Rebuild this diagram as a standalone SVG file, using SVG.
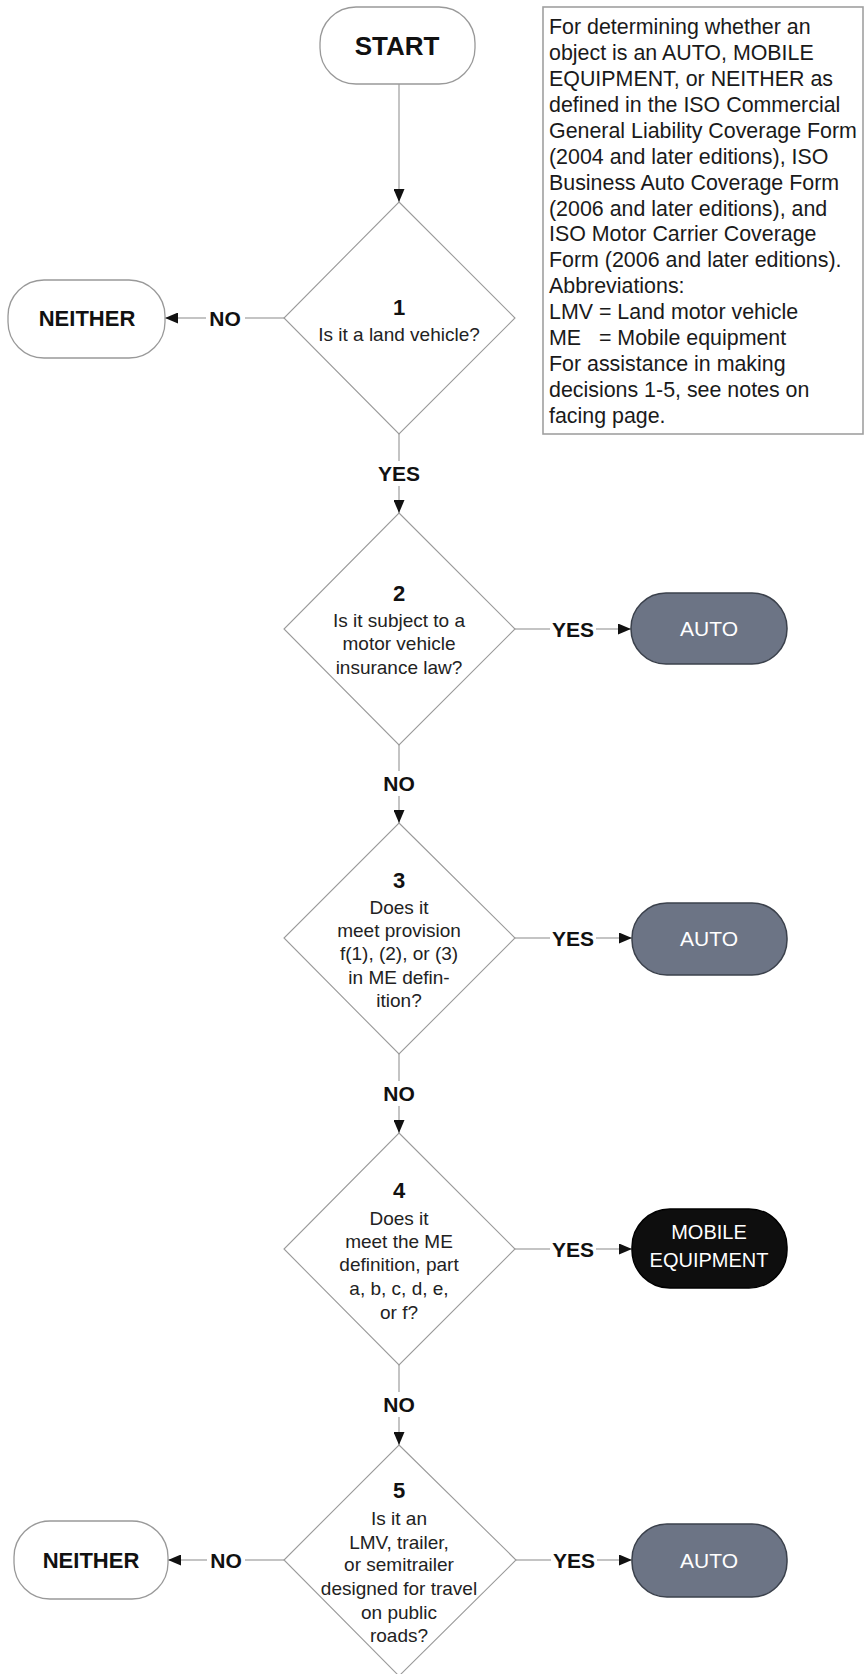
<svg xmlns="http://www.w3.org/2000/svg" width="864" height="1674" viewBox="0 0 864 1674">
<style>
  .term { fill: #ffffff; stroke: #999999; stroke-width: 1.3; }
  .auto { fill: #6c7485; stroke: #3b414c; stroke-width: 1.5; }
  .me { fill: #0e0e0e; stroke: #000000; stroke-width: 1.5; }
  .dia { fill: #ffffff; stroke: #9a9a9a; stroke-width: 1.1; }
  .note { fill: #ffffff; stroke: #a0a0a0; stroke-width: 1.6; }
  .conn { fill: none; stroke: #b0b0b0; stroke-width: 1.5; }
  .bold { font-family: "Liberation Sans", Arial, sans-serif; font-weight: bold; fill: #111111; text-anchor: middle; }
  .q { font-family: "Liberation Sans", Arial, sans-serif; font-size: 19px; fill: #222222; text-anchor: middle; }
  .wt { font-family: "Liberation Sans", Arial, sans-serif; fill: #ffffff; text-anchor: middle; }
  .nt { font-family: "Liberation Sans", Arial, sans-serif; font-size: 21.4px; fill: #1a1a1a; }
  .lbl { font-family: "Liberation Sans", Arial, sans-serif; font-weight: bold; font-size: 21px; fill: #111111; text-anchor: middle; }
</style>
<defs>
  <marker id="arr" markerUnits="userSpaceOnUse" markerWidth="14" markerHeight="11" refX="13" refY="5.5" orient="auto">
    <path d="M0,0 L13,5.5 L0,11 Z" fill="#111111"/>
  </marker>
</defs>

<g id="connectors">
  <line class="conn" x1="399" y1="84" x2="399" y2="202" marker-end="url(#arr)"/>
  <!-- 1 -> NEITHER -->
  <line class="conn" x1="284" y1="318" x2="245" y2="318"/>
  <line class="conn" x1="206" y1="318" x2="165" y2="318" marker-end="url(#arr)"/>
  <!-- 1 -> 2 -->
  <line class="conn" x1="399" y1="434" x2="399" y2="461"/>
  <line class="conn" x1="399" y1="486" x2="399" y2="513" marker-end="url(#arr)"/>
  <!-- 2 -> AUTO -->
  <line class="conn" x1="515" y1="629" x2="550" y2="629"/>
  <line class="conn" x1="596" y1="629" x2="631" y2="629" marker-end="url(#arr)"/>
  <!-- 2 -> 3 -->
  <line class="conn" x1="399" y1="745" x2="399" y2="771"/>
  <line class="conn" x1="399" y1="796" x2="399" y2="823" marker-end="url(#arr)"/>
  <!-- 3 -> AUTO -->
  <line class="conn" x1="515" y1="938" x2="550" y2="938"/>
  <line class="conn" x1="596" y1="938" x2="632" y2="938" marker-end="url(#arr)"/>
  <!-- 3 -> 4 -->
  <line class="conn" x1="399" y1="1054" x2="399" y2="1081"/>
  <line class="conn" x1="399" y1="1106" x2="399" y2="1133" marker-end="url(#arr)"/>
  <!-- 4 -> MOBILE EQUIPMENT -->
  <line class="conn" x1="515" y1="1249" x2="550" y2="1249"/>
  <line class="conn" x1="596" y1="1249" x2="632" y2="1249" marker-end="url(#arr)"/>
  <!-- 4 -> 5 -->
  <line class="conn" x1="399" y1="1365" x2="399" y2="1392"/>
  <line class="conn" x1="399" y1="1417" x2="399" y2="1445" marker-end="url(#arr)"/>
  <!-- 5 -> AUTO -->
  <line class="conn" x1="516" y1="1560" x2="551" y2="1560"/>
  <line class="conn" x1="597" y1="1560" x2="632" y2="1560" marker-end="url(#arr)"/>
  <!-- 5 -> NEITHER -->
  <line class="conn" x1="284" y1="1560" x2="245" y2="1560"/>
  <line class="conn" x1="207" y1="1560" x2="168" y2="1560" marker-end="url(#arr)"/>

  <text class="lbl" x="225" y="326">NO</text>
  <text class="lbl" x="399" y="481">YES</text>
  <text class="lbl" x="573" y="637">YES</text>
  <text class="lbl" x="399" y="791">NO</text>
  <text class="lbl" x="573" y="946">YES</text>
  <text class="lbl" x="399" y="1101">NO</text>
  <text class="lbl" x="573" y="1257">YES</text>
  <text class="lbl" x="399" y="1412">NO</text>
  <text class="lbl" x="574" y="1568">YES</text>
  <text class="lbl" x="226" y="1568">NO</text>
</g>

<g id="start">
  <rect class="term" x="320" y="7" width="155" height="77" rx="36"/>
  <text class="bold" x="397" y="55" font-size="26">START</text>
</g>

<g id="note">
  <rect class="note" x="543" y="7" width="320" height="427"/>
  <text class="nt" x="549" y="34">For determining whether an</text>
  <text class="nt" x="549" y="60">object is an AUTO, MOBILE</text>
  <text class="nt" x="549" y="86">EQUIPMENT, or NEITHER as</text>
  <text class="nt" x="549" y="112">defined in the ISO Commercial</text>
  <text class="nt" x="549" y="138">General Liability Coverage Form</text>
  <text class="nt" x="549" y="164">(2004 and later editions), ISO</text>
  <text class="nt" x="549" y="190">Business Auto Coverage Form</text>
  <text class="nt" x="549" y="216">(2006 and later editions), and</text>
  <text class="nt" x="549" y="241">ISO Motor Carrier Coverage</text>
  <text class="nt" x="549" y="267">Form (2006 and later editions).</text>
  <text class="nt" x="549" y="293">Abbreviations:</text>
  <text class="nt" x="549" y="319">LMV = Land motor vehicle</text>
  <text class="nt" x="549" y="345" xml:space="preserve">ME   = Mobile equipment</text>
  <text class="nt" x="549" y="371">For assistance in making</text>
  <text class="nt" x="549" y="397">decisions 1-5, see notes on</text>
  <text class="nt" x="549" y="423">facing page.</text>
</g>

<g id="d1">
  <polygon class="dia" points="399,202 515,318 399,434 284,318"/>
  <text class="bold" x="399" y="315" font-size="22">1</text>
  <text class="q" x="399" y="341">Is it a land vehicle?</text>
</g>

<g id="neither1">
  <rect class="term" x="8" y="280" width="157" height="78" rx="36"/>
  <text class="bold" x="87" y="326" font-size="22">NEITHER</text>
</g>

<g id="d2">
  <polygon class="dia" points="399,513 515,629 399,745 284,629"/>
  <text class="bold" x="399" y="601" font-size="22">2</text>
  <text class="q" x="399" y="627">Is it subject to a</text>
  <text class="q" x="399" y="650">motor vehicle</text>
  <text class="q" x="399" y="674">insurance law?</text>
</g>

<g id="auto1">
  <rect class="auto" x="631" y="593" width="156" height="71" rx="35"/>
  <text class="wt" x="709" y="636" font-size="21">AUTO</text>
</g>

<g id="d3">
  <polygon class="dia" points="399,823 515,938 399,1054 284,938"/>
  <text class="bold" x="399" y="888" font-size="22">3</text>
  <text class="q" x="399" y="914">Does it</text>
  <text class="q" x="399" y="937">meet provision</text>
  <text class="q" x="399" y="960">f(1), (2), or (3)</text>
  <text class="q" x="399" y="984">in ME defin-</text>
  <text class="q" x="399" y="1007">ition?</text>
</g>

<g id="auto2">
  <rect class="auto" x="632" y="903" width="155" height="72" rx="35"/>
  <text class="wt" x="709" y="946" font-size="21">AUTO</text>
</g>

<g id="d4">
  <polygon class="dia" points="399,1133 515,1249 399,1365 284,1249"/>
  <text class="bold" x="399" y="1198" font-size="22">4</text>
  <text class="q" x="399" y="1225">Does it</text>
  <text class="q" x="399" y="1248">meet the ME</text>
  <text class="q" x="399" y="1271">definition, part</text>
  <text class="q" x="399" y="1295">a, b, c, d, e,</text>
  <text class="q" x="399" y="1319">or f?</text>
</g>

<g id="mobile">
  <rect class="me" x="632" y="1209" width="155" height="79" rx="38"/>
  <text class="wt" x="709" y="1239" font-size="20">MOBILE</text>
  <text class="wt" x="709" y="1267" font-size="20">EQUIPMENT</text>
</g>

<g id="d5">
  <polygon class="dia" points="399,1445 516,1560 399,1676 284,1560"/>
  <text class="bold" x="399" y="1498" font-size="22">5</text>
  <text class="q" x="399" y="1525">Is it an</text>
  <text class="q" x="399" y="1549">LMV, trailer,</text>
  <text class="q" x="399" y="1571">or semitrailer</text>
  <text class="q" x="399" y="1595">designed for travel</text>
  <text class="q" x="399" y="1619">on public</text>
  <text class="q" x="399" y="1642">roads?</text>
</g>

<g id="neither2">
  <rect class="term" x="14" y="1521" width="154" height="78" rx="36"/>
  <text class="bold" x="91" y="1568" font-size="22">NEITHER</text>
</g>

<g id="auto3">
  <rect class="auto" x="632" y="1524" width="155" height="73" rx="35"/>
  <text class="wt" x="709" y="1568" font-size="21">AUTO</text>
</g>
</svg>
